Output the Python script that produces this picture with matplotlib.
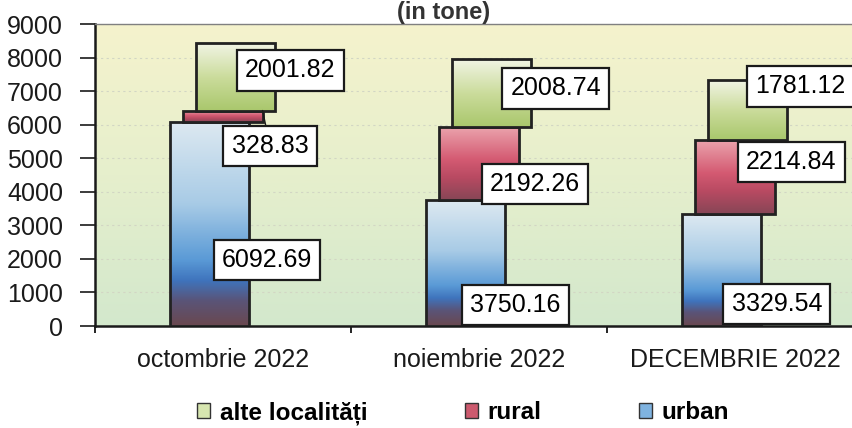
import numpy as np
import matplotlib
matplotlib.use('Agg')
import matplotlib.pyplot as plt
from matplotlib.colors import LinearSegmentedColormap
from matplotlib.patches import Patch

plt.rcParams['font.family'] = ['Liberation Sans', 'DejaVu Sans']

# data (tone)
luni = ['octombrie 2022', 'noiembrie 2022', 'DECEMBRIE 2022']
urban = [6092.69, 3750.16, 3329.54]
rural = [328.83, 2192.26, 2214.84]
alte = [2001.82, 2008.74, 1781.12]
serii = ['alte localități', 'rural', 'urban']

# where excel put the value boxes (centre, data units)
lbl_dx = {'urban': [0.172, 0.141, 0.164], 'rural': [0.184, 0.219, 0.219], 'alte': [0.262, 0.30, 0.255]}
lbl_y = {'urban': [1964, 625, 655], 'rural': [5357, 4226, 4881], 'alte': [7619, 7083, 7143]}

W, H = 853, 428
fig = plt.figure(figsize=(W/100, H/100), dpi=100)
ax = fig.add_axes([95/W, 1-326/H, 768/W, 302/H])

# background gradient of the plot area
bg = LinearSegmentedColormap.from_list('bg', ['#d3e8cc', '#e6efcc', '#f5f3cd'])
ax.imshow(np.linspace(0, 1, 256).reshape(-1, 1)[::-1], cmap=bg, aspect='auto',
          extent=[0, 1, 0, 1], transform=ax.transAxes, zorder=0)

cmaps = {
    'urban': LinearSegmentedColormap.from_list('u', [(0, '#6a4850'), (0.12, '#5a5478'), (0.22, '#3f74bd'),
                                                     (0.32, '#5a9ad6'), (0.6, '#a8cbe6'), (1, '#dde9f1')]),
    'rural': LinearSegmentedColormap.from_list('r', [(0, '#874656'), (0.3, '#b84a62'), (0.55, '#d45a72'),
                                                     (1, '#eba5ae')]),
    'alte': LinearSegmentedColormap.from_list('a', [(0, '#a9c76c'), (0.5, '#cbdc9c'), (1, '#f1f4e4')]),
}
shift = {'urban': -0.051, 'rural': 0.0, 'alte': 0.05}
bw = 0.309
x = np.arange(len(luni))
grad = np.linspace(0, 1, 128).reshape(-1, 1)

stacks = [('urban', urban, np.zeros(3)), ('rural', rural, np.array(urban)),
          ('alte', alte, np.array(urban) + np.array(rural))]
for z, (name, vals, base) in enumerate(stacks):
    bars = ax.bar(x + shift[name], vals, bw, bottom=base, facecolor='none',
                  edgecolor='#222222', linewidth=2.0, zorder=3 + z)
    for b in bars:
        x0, y0 = b.get_x(), b.get_y()
        im = ax.imshow(grad, cmap=cmaps[name], aspect='auto', origin='lower',
                       extent=[x0, x0 + b.get_width(), y0, y0 + b.get_height()], zorder=2.9 + z)
        im.set_clip_path(b)

for name, vals, base in stacks:
    for i in range(3):
        tx, ty = x[i] + lbl_dx[name][i], lbl_y[name][i]
        box = dict(boxstyle='square,pad=0.33', facecolor='white', edgecolor='#1a1a1a', linewidth=1.6)
        if name == 'rural' and i == 0:
            ax.annotate(f'{vals[i]:.2f}', xy=(x[i] + shift[name] + bw/2, base[i] + vals[i]),
                        xytext=(tx, ty), ha='center', va='center', fontsize=18, bbox=box, zorder=10,
                        arrowprops=dict(arrowstyle='-', color='#1a1a1a', lw=1, shrinkA=0, shrinkB=0))
        else:
            ax.text(tx, ty, f'{vals[i]:.2f}', ha='center', va='center', fontsize=18, bbox=box, zorder=10)

for yv in range(1000, 9001, 1000):
    ax.axhline(yv, color='#d2d6c4', lw=0.8, ls=(0, (2, 3)), zorder=1)

ax.set_xlim(-0.5, 2.5)
ax.set_ylim(0, 9000)
ax.set_yticks(range(0, 9001, 1000))
ax.set_xticks(x)
ax.set_xticklabels(luni)
ax.set_xticks([-0.5, 0.5, 1.5, 2.5], minor=True)
ax.tick_params(axis='x', which='major', length=0, pad=16, labelsize=18, colors='#1a1a1a')
ax.tick_params(axis='x', which='minor', length=5, width=1.2, direction='out')
ax.tick_params(axis='y', length=11, width=1.2, direction='out', pad=12, labelsize=18, colors='#1a1a1a')
for s in ['left', 'bottom']:
    ax.spines[s].set_linewidth(1.8)
    ax.spines[s].set_color('#1a1a1a')
ax.spines['top'].set_color('#808080')
ax.spines['top'].set_linewidth(1.0)
ax.spines['right'].set_visible(False)

fig.text(444/W, 1-19/H, '(in tone)', ha='center', va='baseline', fontsize=17, fontweight='bold', color='#333333')

handles = [Patch(facecolor='#d7e6b0', edgecolor='#333333'),
           Patch(facecolor='#cc5a6e', edgecolor='#333333'),
           Patch(facecolor='#7fb3e0', edgecolor='#333333')]
fig.legend(handles, serii, loc='center', bbox_to_anchor=(463/W, 1-413/H), ncol=3, frameon=False,
           prop={'size': 17.5, 'weight': 'bold'}, handlelength=0.55, handleheight=0.55,
           handletextpad=0.4, columnspacing=4.0)

fig.savefig('out.png', dpi=100)
